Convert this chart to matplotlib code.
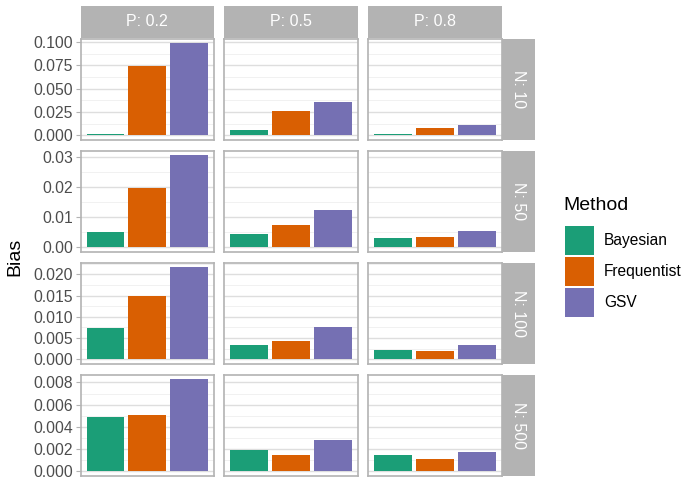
import matplotlib
matplotlib.use("Agg")
import matplotlib.pyplot as plt
from matplotlib.patches import Rectangle

plt.rcParams['font.family'] = ['Liberation Sans', 'DejaVu Sans']

methods = ["Bayesian", "Frequentist", "GSV"]
colors = ["#1B9E77", "#D95F02", "#7570B3"]
p_labels = ["P: 0.2", "P: 0.5", "P: 0.8"]
n_labels = ["N: 10", "N: 50", "N: 100", "N: 500"]

# rows: N = 10, 50, 100, 500 ; cols: P = 0.2, 0.5, 0.8
bayesian = [[0.0020, 0.0053, 0.0020],
            [0.0051, 0.0045, 0.0032],
            [0.0074, 0.0034, 0.0023],
            [0.0049, 0.0019, 0.0015]]
frequentist = [[0.0737, 0.0263, 0.0074],
               [0.0195, 0.0074, 0.0035],
               [0.0149, 0.0044, 0.0020],
               [0.0051, 0.00145, 0.0011]]
gsv = [[0.0986, 0.0358, 0.0116],
       [0.0305, 0.0123, 0.0055],
       [0.0217, 0.0077, 0.0034],
       [0.0083, 0.0028, 0.0017]]

row_ticks = [[0.0, 0.025, 0.05, 0.075, 0.1],
             [0.0, 0.01, 0.02, 0.03],
             [0.0, 0.005, 0.01, 0.015, 0.02],
             [0.0, 0.002, 0.004, 0.006, 0.008]]
row_fmt = ["{:.3f}", "{:.2f}", "{:.3f}", "{:.3f}"]

W, H = 686, 480
fig = plt.figure(figsize=(W / 100, H / 100), dpi=100)

def fx(x):
    return x / W

def fy(y):
    return 1 - y / H

def ax_px(x0, y0, x1, y1):
    return fig.add_axes([x0 / W, 1 - y1 / H, (x1 - x0) / W, (y1 - y0) / H])

col_x = [(80.5, 214), (224, 358), (368, 502)]
row_y = [(38.5, 140), (150.5, 252), (262.5, 364), (374.5, 476)]
strip_top = (6, 37.5)
strip_right = (502, 534.5)

data = [bayesian, frequentist, gsv]
grey70 = "#B3B3B3"
grid_col = "#DEDEDE"

for r in range(4):
    rmax = max(max(d[r]) for d in data)
    lo, hi = -0.05 * rmax, 1.05 * rmax
    ticks = row_ticks[r]
    minors = [(ticks[i] + ticks[i + 1]) / 2 for i in range(len(ticks) - 1)]
    minors.append(ticks[-1] + (ticks[1] - ticks[0]) / 2)
    for c in range(3):
        x0, x1 = col_x[c]
        y0, y1 = row_y[r]
        ax = ax_px(x0, y0, x1, y1)
        vals = [d[r][c] for d in data]
        ax.bar([1, 2, 3], vals, width=0.9, color=colors, zorder=3)
        ax.set_xlim(0.4, 3.6)
        ax.set_ylim(lo, hi)
        for m in minors:
            if lo < m < hi:
                ax.axhline(m, color="#EBEBEB", lw=0.5, zorder=1)
        for t in ticks:
            ax.axhline(t, color=grid_col, lw=1.0, zorder=1)
        ax.set_xticks([])
        ax.set_yticks(ticks)
        if c == 0:
            ax.set_yticklabels([row_fmt[r].format(t) for t in ticks],
                               fontsize=11.3, color="#4D4D4D")
            ax.tick_params(axis='y', length=3.5, width=0.8, color=grey70, pad=2)
        else:
            ax.tick_params(axis='y', length=0, labelleft=False)
        for s in ax.spines.values():
            s.set_color(grey70)
            s.set_linewidth(1.2)
        ax.set_facecolor("white")
        if r == 0:
            sax = ax_px(x0, strip_top[0], x1, strip_top[1])
            sax.set_facecolor(grey70)
            sax.set_xticks([]); sax.set_yticks([])
            for s in sax.spines.values():
                s.set_visible(False)
            sax.text(0.5, 0.5, p_labels[c], ha="center", va="center",
                     color="white", fontsize=11.5, transform=sax.transAxes)
    sax = ax_px(strip_right[0], row_y[r][0], strip_right[1], row_y[r][1])
    sax.set_facecolor(grey70)
    sax.set_xticks([]); sax.set_yticks([])
    for s in sax.spines.values():
        s.set_visible(False)
    sax.text(0.5, 0.5, n_labels[r], ha="center", va="center", rotation=-90,
             color="white", fontsize=11.5, transform=sax.transAxes)

fig.text(fx(15), fy(257), "Bias", rotation=90, ha="center", va="center",
         fontsize=14, color="black")

# legend (manual, ggplot-like)
fig.text(fx(563), fy(206), "Method", ha="left", va="center", fontsize=14,
         color="black")
key_x0, key_size, key_step, key_top = 565, 29, 31, 226
for i, (m, col) in enumerate(zip(methods, colors)):
    ky = key_top + i * key_step
    fig.patches.append(Rectangle((fx(key_x0), fy(ky + key_size)),
                                 key_size / W, key_size / H,
                                 transform=fig.transFigure,
                                 facecolor=col, edgecolor="none"))
    fig.text(fx(604), fy(ky + key_size / 2), m, ha="left", va="center",
             fontsize=11.2, color="black")

fig.savefig("out.png", dpi=100, facecolor="white")
